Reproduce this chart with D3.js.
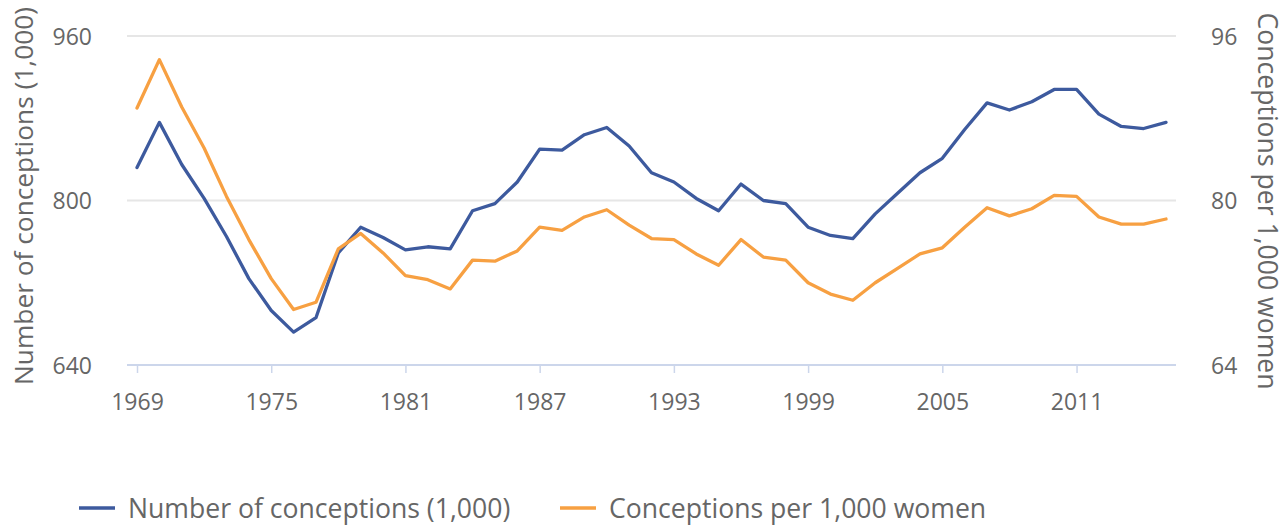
<!DOCTYPE html>
<html><head><meta charset="utf-8">
<script src="https://cdn.jsdelivr.net/npm/d3@7"></script>
<style>html,body{margin:0;padding:0;background:#fff;}svg{display:block;font-family:"Open Sans",sans-serif;}</style>
</head><body>
<svg id="c" width="1287" height="526"></svg>
<script>
const years = d3.range(1969, 2016);
const conceptions = [832,876,835,802,765,724,693,672,686,749,
  774,764,752,755,753,790,797,818,850,849,
  864,871,853,827,818,802,790,816,800,797,
  774,766,763,787,807,827,841,869,895,888,
  896,908,908,884,872,870,876];
const ratePer1000 = [89.0,93.7,89.1,85.1,80.4,76.2,72.4,69.4,70.1,75.3,
  76.8,74.9,72.7,72.3,71.4,74.2,74.1,75.1,77.4,77.1,
  78.4,79.1,77.6,76.3,76.2,74.8,73.7,76.2,74.5,74.2,
  72.0,70.9,70.3,72.0,73.4,74.8,75.4,77.4,79.3,78.5,
  79.2,80.5,80.4,78.4,77.7,77.7,78.2];
const xTicks = [1969,1975,1981,1987,1993,1999,2005,2011];
const leftTicks = [640,800,960];
const rightTicks = [64,80,96];
const seriesNames = ["Number of conceptions (1,000)","Conceptions per 1,000 women"];
const colors = ["#3d5a9e","#f7a042"];

const svg = d3.select("#c");
const L = 127, R = 1176, T = 36, B = 365;
const x = d3.scaleLinear().domain([1969, 1969 + (R - 10 - (L + 10)) / 22.37]).range([L + 10, R - 10]);
const yL = d3.scaleLinear().domain([640, 960]).range([B, T]);
const yR = d3.scaleLinear().domain([64, 96]).range([B, T]);

// gridlines
svg.append("g").selectAll("line").data(leftTicks.filter(d => d !== 640)).join("line")
  .attr("x1", L).attr("x2", R).attr("y1", d => yL(d)).attr("y2", d => yL(d))
  .attr("stroke", "#e6e6e6").attr("stroke-width", 2);

// x axis
const xAxis = d3.axisBottom(x).tickValues(xTicks).tickFormat(d3.format("d")).tickSize(8).tickSizeOuter(0);
const gx = svg.append("g").attr("transform", `translate(0,${B})`).call(xAxis);
gx.select(".domain").remove();
gx.append("line").attr("x1", L).attr("x2", R).attr("stroke", "#ccd6eb").attr("stroke-width", 2);
gx.selectAll(".tick line").attr("stroke", "#ccd6eb").attr("stroke-width", 1.5);
gx.selectAll(".tick text").attr("fill", "#666").attr("font-size", 23).attr("y", 45).attr("dy", 0)
  .attr("font-family", "Open Sans");

// left axis
const gl = svg.append("g").attr("transform", `translate(92,0)`)
  .call(d3.axisLeft(yL).tickValues(leftTicks).tickSize(0).tickPadding(0));
gl.select(".domain").remove();
gl.selectAll(".tick text").attr("fill", "#666").attr("font-size", 23).attr("dy", "0.36em").attr("font-family", "Open Sans");

// right axis
const gr = svg.append("g").attr("transform", `translate(1211,0)`)
  .call(d3.axisRight(yR).tickValues(rightTicks).tickSize(0).tickPadding(0));
gr.select(".domain").remove();
gr.selectAll(".tick text").attr("fill", "#666").attr("font-size", 23).attr("dy", "0.36em").attr("font-family", "Open Sans");

// axis titles
svg.append("text").attr("transform", `translate(24,196) rotate(-90)`)
  .attr("text-anchor", "middle").attr("dy", "0.35em").attr("fill", "#666").attr("font-size", 26.3)
  .text(seriesNames[0]);
svg.append("text").attr("transform", `translate(1267,201) rotate(90)`)
  .attr("text-anchor", "middle").attr("dy", "0.35em").attr("fill", "#666").attr("font-size", 26.6)
  .text(seriesNames[1]);

// lines
const line1 = d3.line().x((d, i) => x(years[i])).y(d => yL(d));
const line2 = d3.line().x((d, i) => x(years[i])).y(d => yR(d));
svg.append("path").datum(conceptions).attr("d", line1).attr("fill", "none")
  .attr("stroke", colors[0]).attr("stroke-width", 3.3).attr("stroke-linejoin", "round").attr("stroke-linecap", "round");
svg.append("path").datum(ratePer1000).attr("d", line2).attr("fill", "none")
  .attr("stroke", colors[1]).attr("stroke-width", 3.3).attr("stroke-linejoin", "round").attr("stroke-linecap", "round");

// legend
const legendX = [79, 560];
const lg = svg.append("g");
seriesNames.forEach((name, i) => {
  lg.append("line").attr("x1", legendX[i]).attr("x2", legendX[i] + 36).attr("y1", 508).attr("y2", 508)
    .attr("stroke", colors[i]).attr("stroke-width", 3.5);
  lg.append("text").attr("x", legendX[i] + 49).attr("y", 509).attr("dy", "0.35em")
    .attr("fill", "#666").attr("font-size", 26.6).text(name);
});
</script>
</body></html>
